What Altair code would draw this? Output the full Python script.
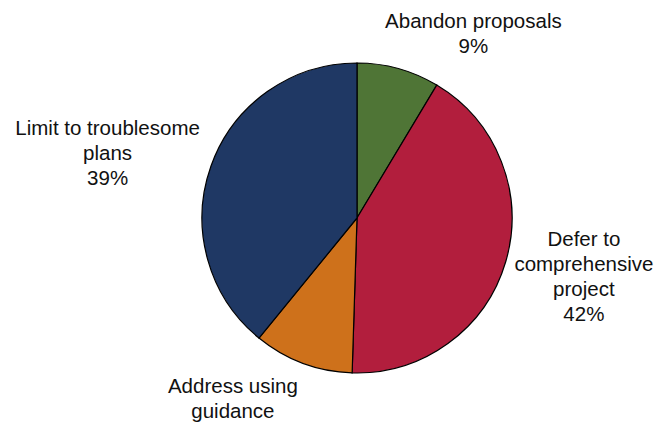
import altair as alt
import pandas as pd

categories = ["Abandon proposals", "Defer to comprehensive project",
              "Address using guidance", "Limit to troublesome plans"]
label_lines = ["Abandon proposals", "Defer to\ncomprehensive\nproject",
               "Address using\nguidance", "Limit to troublesome\nplans"]
values = [8.6, 41.9, 10.4, 39.1]
show_pct = [True, True, False, True]
colors = ["#4F7536", "#B21E3D", "#CE711B", "#1F3864"]

total = sum(values)
labels = []
for l, v, s in zip(label_lines, values, show_pct):
    labels.append(f"{l}\n{round(v / total * 100):.0f}%" if s else l)

df = pd.DataFrame({
    "idx": list(range(len(categories))),
    "category": categories,
    "value": values,
    "label": labels,
})

theta_scale = alt.Scale(domain=[0, total])
color_scale = alt.Scale(domain=categories, range=colors)

pie = alt.Chart(df).mark_arc(outerRadius=155, stroke="black", strokeWidth=1.2).encode(
    theta=alt.Theta("value:Q", stack=True, scale=theta_scale),
    color=alt.Color("category:N", scale=color_scale, legend=None),
    order=alt.Order("idx:Q"),
)

# label nudges (layout only), relative to the slice mid-angle at radius 200
nudges = {
    categories[0]: (63, 3),
    categories[1]: (35, -28),
    categories[2]: (-54, -12),
    categories[3]: (-61, -16),
}

layers = [pie]
for cat in categories:
    dx, dy = nudges[cat]
    t = alt.Chart(df).transform_window(
        cum="sum(value)", sort=[alt.SortField("idx")]
    ).transform_calculate(
        mid="datum.cum - datum.value / 2"
    ).transform_filter(
        alt.datum.category == cat
    ).mark_text(
        radius=200, dx=dx, dy=dy, font="Liberation Sans", fontSize=20.5,
        lineBreak="\n", lineHeight=25, align="center", baseline="alphabetic",
        color="#111111",
    ).encode(
        theta=alt.Theta("mid:Q", stack=None, scale=theta_scale),
        text="label:N",
    )
    layers.append(t)

chart = alt.layer(*layers).properties(
    width=500, height=300,
    autosize=alt.AutoSizeParams(type="none"),
    padding={"left": 107, "top": 68, "right": 50, "bottom": 54},
    background="white",
).configure_view(strokeWidth=0)

chart.save("out.html", embed_options={"renderer": "svg", "actions": False})
